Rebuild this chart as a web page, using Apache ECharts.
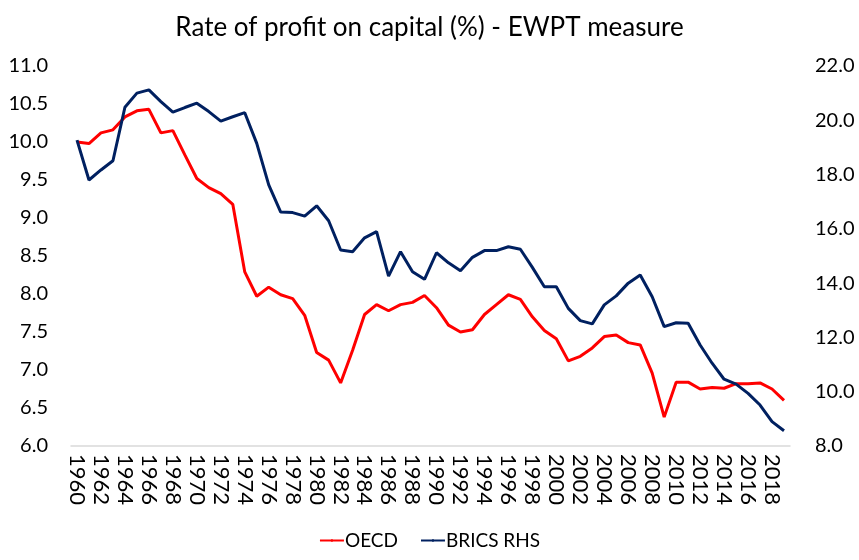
<!DOCTYPE html>
<html>
<head>
<meta charset="utf-8">
<script src="https://cdn.jsdelivr.net/npm/echarts@6/dist/echarts.min.js"></script>
<style>
html,body{margin:0;padding:0;background:#fff;}
#chart{width:859px;height:560px;}
</style>
</head>
<body>
<div id="chart"></div>
<script>
var years = [];
for (var y = 1960; y <= 2019; y++) years.push(String(y));

var oecd = [10.00, 9.98, 10.12, 10.16, 10.33, 10.41, 10.43, 10.12, 10.15, 9.83,
            9.52, 9.40, 9.32, 9.18, 8.29, 7.97, 8.09, 7.99, 7.94, 7.72,
            7.23, 7.13, 6.83, 7.26, 7.73, 7.86, 7.78, 7.86, 7.89, 7.98,
            7.82, 7.59, 7.50, 7.53, 7.73, 7.86, 7.99, 7.93, 7.70, 7.52,
            7.41, 7.12, 7.18, 7.29, 7.44, 7.46, 7.36, 7.33, 6.96, 6.38,
            6.84, 6.84, 6.75, 6.77, 6.76, 6.82, 6.82, 6.83, 6.75, 6.60];

var brics = [19.27, 17.80, 18.17, 18.51, 20.48, 21.00, 21.12, 20.69, 20.30, 20.47,
             20.63, 20.32, 19.97, 20.13, 20.28, 19.15, 17.62, 16.62, 16.60, 16.47,
             16.85, 16.30, 15.22, 15.16, 15.67, 15.90, 14.26, 15.16, 14.42, 14.14,
             15.12, 14.75, 14.46, 14.95, 15.20, 15.20, 15.34, 15.25, 14.58, 13.87,
             13.87, 13.07, 12.62, 12.50, 13.20, 13.53, 14.00, 14.30, 13.50, 12.40,
             12.54, 12.52, 11.72, 11.05, 10.46, 10.28, 9.94, 9.51, 8.90, 8.56];

var titleText = 'Rate of profit on capital (%) - EWPT measure';
var seriesNames = ['OECD', 'BRICS RHS'];

var FONT = 'Lato';
var chart = echarts.init(document.getElementById('chart'));
chart.setOption({
  backgroundColor: '#ffffff',
  animation: false,
  title: {
    text: titleText,
    left: 'center',
    top: 10,
    textStyle: {fontFamily: FONT, fontSize: 26, fontWeight: 'normal', color: '#000000'}
  },
  legend: {
    data: seriesNames,
    bottom: 5,
    left: 'center',
    itemWidth: 24,
    itemHeight: 3,
    itemGap: 22,
    textStyle: {fontFamily: FONT, fontSize: 19, color: '#000000', padding: [0, 0, 0, -4]}
  },
  grid: {left: 71, right: 69, top: 66, bottom: 114, containLabel: false},
  xAxis: {
    type: 'category',
    data: years,
    boundaryGap: true,
    axisLine: {show: true, lineStyle: {color: '#d9d9d9', width: 1.5}},
    axisTick: {show: false},
    axisLabel: {
      interval: 1,
      rotate: -90,
      fontFamily: FONT,
      fontSize: 22,
      color: '#000000',
      margin: 8
    },
    splitLine: {show: false}
  },
  yAxis: [{
    type: 'value',
    min: 6, max: 11, interval: 0.5,
    axisLine: {show: false},
    axisTick: {show: false},
    splitLine: {show: false},
    axisLabel: {
      fontFamily: FONT, fontSize: 20, color: '#000000', margin: 23,
      formatter: function (v) { return v.toFixed(1); }
    }
  }, {
    type: 'value',
    min: 8, max: 22, interval: 2,
    position: 'right',
    axisLine: {show: false},
    axisTick: {show: false},
    splitLine: {show: false},
    axisLabel: {
      fontFamily: FONT, fontSize: 20, color: '#000000', margin: 25,
      formatter: function (v) { return v.toFixed(1); }
    }
  }],
  series: [{
    name: seriesNames[0],
    type: 'line',
    yAxisIndex: 0,
    data: oecd,
    symbol: 'none',
    lineStyle: {color: '#ff0000', width: 3},
    itemStyle: {color: '#ff0000'}
  }, {
    name: seriesNames[1],
    type: 'line',
    yAxisIndex: 1,
    data: brics,
    symbol: 'none',
    lineStyle: {color: '#002060', width: 3},
    itemStyle: {color: '#002060'}
  }]
});
</script>
</body>
</html>
